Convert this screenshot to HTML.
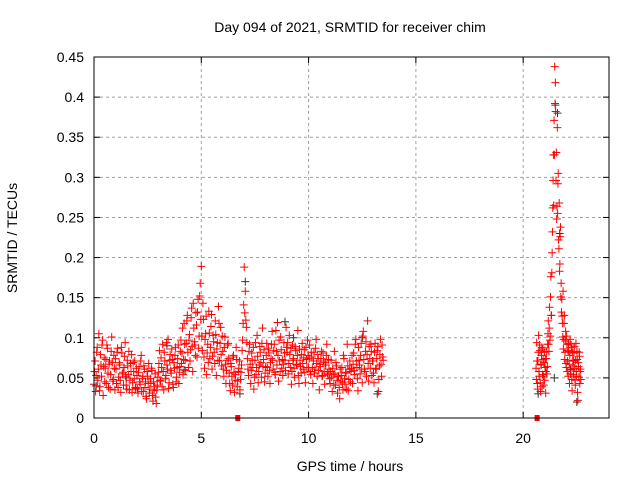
<!DOCTYPE html>
<html><head><meta charset="utf-8">
<style>
html,body{margin:0;padding:0;background:#fff;}
svg{display:block;font-family:"Liberation Sans",sans-serif;}
</style></head>
<body>
<svg id="chart" width="640" height="480">
  <rect width="640" height="480" fill="#fff"/>
  <text x="350" y="32" font-size="14" text-anchor="middle">Day 094 of 2021, SRMTID for receiver chim</text>
  <text x="350" y="471" font-size="14" text-anchor="middle">GPS time / hours</text>
  <text x="17" y="238" font-size="14" text-anchor="middle" transform="rotate(-90 17 238)">SRMTID / TECUs</text>
  <g id="grid"></g>
  <g id="ticks"></g>
  <g id="marks"></g>
  <rect x="94" y="57" width="515" height="361" fill="none" stroke="#000" stroke-width="1"/>
</svg>
<script>
const xTicks = [0, 5, 10, 15, 20];
const yTicks = [0, 0.05, 0.1, 0.15, 0.2, 0.25, 0.3, 0.35, 0.4, 0.45];
const yTickLabels = ["0", "0.05", "0.1", "0.15", "0.2", "0.25", "0.3", "0.35", "0.4", "0.45"];
const redAStart = 0;
const redAStep = 0.05;
const redA = [
.042,.071,.053,.088,.061,.034,.079,.052,.097,.064,.045,.073,.091,.056,.067,.036,.083,.069,.048,.062,
.074,.043,.087,.051,.066,.032,.081,.057,.063,.094,.041,.072,.054,.035,.068,.079,.044,.058,.071,.037,
.053,.031,.064,.042,.078,.049,.033,.061,.045,.024,.052,.068,.036,.043,.059,.021,.034,.055,.018,.041,
.057,.084,.046,.063,.092,.035,.071,.053,.066,.098,.044,.079,.056,.073,.038,.062,.088,.051,.074,.043,
.064,.097,.081,.054,.118,.072,.093,.128,.063,.104,.085,.137,.058,.112,.091,.131,.076,.148,.102,.168,
.189,.084,.123,.062,.105,.054,.092,.133,.074,.114,.061,.103,.082,.121,.053,.094,.139,.071,.113,.065,
.083,.052,.101,.043,.072,.093,.056,.034,.064,.041,.078,.032,.054,.073,.046,.062,.035,.057,.084,.118,
.188,.158,.113,.074,.053,.092,.043,.081,.063,.036,.072,.054,.103,.044,.066,.082,.051,.112,.073,.045,
.064,.093,.052,.081,.043,.074,.108,.061,.092,.054,.083,.119,.046,.071,.101,.062,.053,.094,.072,.113,
.082,.055,.103,.063,.042,.091,.074,.051,.084,.066,.109,.043,.072,.056,.093,.061,.085,.044,.073,.097,
.063,.091,.054,.076,.043,.082,.061,.098,.052,.074,.035,.064,.083,.053,.071,.042,.066,.092,.054,.061,
.043,.072,.033,.054,.083,.041,.065,.031,.052,.024,.046,.063,.035,.074,.042,.056,.092,.034,.061,.045,
.062,.043,.081,.054,.098,.063,.034,.072,.055,.093,.044,.108,.061,.083,.052,.121,.046,.074,.092,.053,
.071,.044,.093,.062,.084,.033,.065,.098,.052,.076
];
const redA2Start = 0.025;
const redA2Step = 0.05;
const redA2 = [
.058,.033,.082,.047,.105,.039,.066,.091,.028,.075,.062,.043,.087,.038,.071,.054,.101,.046,.078,.035,
.061,.082,.038,.069,.047,.088,.055,.041,.077,.052,.036,.065,.083,.047,.058,.032,.069,.049,.038,.062,
.036,.057,.045,.071,.033,.052,.065,.038,.027,.058,.043,.031,.049,.062,.028,.045,.039,.026,.035,.051,
.068,.047,.075,.039,.058,.082,.049,.094,.061,.037,.072,.059,.086,.042,.069,.078,.045,.063,.091,.057,
.083,.068,.112,.073,.092,.059,.121,.082,.097,.071,.125,.089,.143,.095,.078,.116,.132,.087,.152,.123,
.102,.143,.076,.098,.127,.081,.069,.106,.088,.129,.077,.095,.068,.104,.086,.072,.118,.093,.079,.102,
.061,.088,.067,.059,.091,.074,.043,.068,.052,.076,.057,.047,.088,.039,.058,.071,.048,.066,.097,.141,
.131,.122,.094,.061,.083,.067,.059,.072,.088,.051,.094,.063,.077,.058,.089,.069,.093,.064,.085,.056,
.078,.063,.087,.059,.069,.092,.072,.084,.057,.109,.066,.078,.097,.058,.085,.073,.067,.081,.059,.088,
.094,.068,.079,.087,.058,.072,.062,.089,.067,.078,.053,.086,.064,.079,.068,.075,.057,.088,.063,.078,
.074,.058,.082,.063,.071,.056,.087,.068,.079,.059,.067,.074,.052,.081,.058,.069,.078,.056,.073,.049,
.058,.051,.062,.041,.056,.069,.047,.052,.038,.061,.053,.044,.078,.049,.057,.036,.065,.048,.071,.058,
.078,.067,.059,.092,.071,.049,.088,.066,.078,.061,.102,.073,.058,.095,.079,.068,.089,.062,.083,.071,
.056,.082,.061,.074,.089,.048,.079,.067,.091,.072
];
const redBStart = 20.6;
const redBStep = 0.03;
const redB = [
.062,.094,.043,.071,.103,.052,.084,.033,.066,.088,
.054,.073,.041,.082,.063,.031,.074,.055,.092,.121,
.083,.138,.102,.176,.128,.206,.262,.328,.371,.438,
.418,.296,.248,.362,.292,.222,.268,.192,.238,.168,
.148,.118,.158,.098,.128,.082,.108,.063,.092,.071,
.052,.083,.043,.098,.061,.088,.034,.072,.054,.081,
.062,.041,.093,.052,.073,.022,.064,.082,.043,.061
];
const redB2Start = 20.615;
const redB2Step = 0.03;
const redB2 = [
.048,.071,.036,.082,.058,.091,.044,.067,.078,.039,
.086,.052,.069,.047,.074,.058,.083,.064,.105,.092,
.112,.097,.151,.128,.181,.232,.296,.265,.328,.392,
.382,.331,.264,.255,.305,.211,.183,.226,.151,.132,
.127,.101,.086,.118,.073,.096,.068,.102,.058,.084,
.093,.067,.078,.055,.091,.048,.082,.065,.071,.089,
.047,.072,.058,.083,.032,.069,.051,.077,.058,.048
];
const blackT = [0.1,1.5,3.4,4.2,6.8,7.05,8.9,9.3,12.5,13.2,21.5,21.6,21.7,21.45,20.7,22.5,22.2];
const blackV = [.04,.05,.09,.06,.03,.17,.12,.10,.10,.03,.39,.38,.23,.05,.03,.02,.06];
const zeroT = [6.7, 20.65];

const X0 = 94, X1 = 609, Y0 = 418, Y1 = 57, XMAX = 24, YMAX = 0.45;
function xs(t){ return X0 + t / XMAX * (X1 - X0); }
function ys(v){ return Y0 - v / YMAX * (Y0 - Y1); }
const NS = "http://www.w3.org/2000/svg";
const grid = document.getElementById('grid');
const ticks = document.getElementById('ticks');
const marks = document.getElementById('marks');
function mk(tag, attrs, parent){ const e = document.createElementNS(NS, tag); for (const k in attrs) e.setAttribute(k, attrs[k]); parent.appendChild(e); return e; }

xTicks.forEach(t => {
  const x = xs(t);
  if (t > 0) {
    const g = mk('line', {x1:x, x2:x, y1:Y1, y2:Y0, stroke:'#a0a0a0', 'stroke-dasharray':'3,3'}, grid);
    
    
  }
  mk('line', {x1:x, x2:x, y1:Y0, y2:Y0-6, stroke:'#000'}, ticks);
  mk('line', {x1:x, x2:x, y1:Y1, y2:Y1+6, stroke:'#000'}, ticks);
  const l = mk('text', {x:x, y:443, 'font-size':14, 'text-anchor':'middle'}, ticks);
  l.textContent = String(t);
  
  
});
yTicks.forEach((v, i) => {
  const y = ys(v);
  if (v > 0 && v < YMAX) {
    const g = mk('line', {x1:X0, x2:X1, y1:y, y2:y, stroke:'#a0a0a0', 'stroke-dasharray':'3,3'}, grid);
    
    
  }
  mk('line', {x1:X0, x2:X0+6, y1:y, y2:y, stroke:'#000'}, ticks);
  mk('line', {x1:X1, x2:X1-6, y1:y, y2:y, stroke:'#000'}, ticks);
  const l = mk('text', {x:84, y:y+5, 'font-size':14, 'text-anchor':'end'}, ticks);
  l.textContent = yTickLabels[i];
  
  
});
function cross(t, v, color, name){
  const x = xs(t), y = ys(v);
  const p = mk('path', {d:`M${x-4},${y}H${x+4}M${x},${y-4}V${y+4}`, stroke:color, 'stroke-width':1, fill:'none'}, marks);
  
  
}
blackT.forEach((t, i) => cross(t, blackV[i], '#333', 'black-point'));
redA.forEach((v, i) => cross(redAStart + i * redAStep, v, '#ff0000', 'red-point'));
redA2.forEach((v, i) => cross(redA2Start + i * redA2Step, v, '#ff0000', 'red-point'));
redB.forEach((v, i) => cross(redBStart + i * redBStep, v, '#ff0000', 'red-point'));
redB2.forEach((v, i) => cross(redB2Start + i * redB2Step, v, '#ff0000', 'red-point'));
zeroT.forEach(t => {
  const r = mk('rect', {x:xs(t)-2.5, y:Y0-3, width:5, height:6, fill:'#ff0000'}, marks);
  
  
});
</script>
</body></html>
